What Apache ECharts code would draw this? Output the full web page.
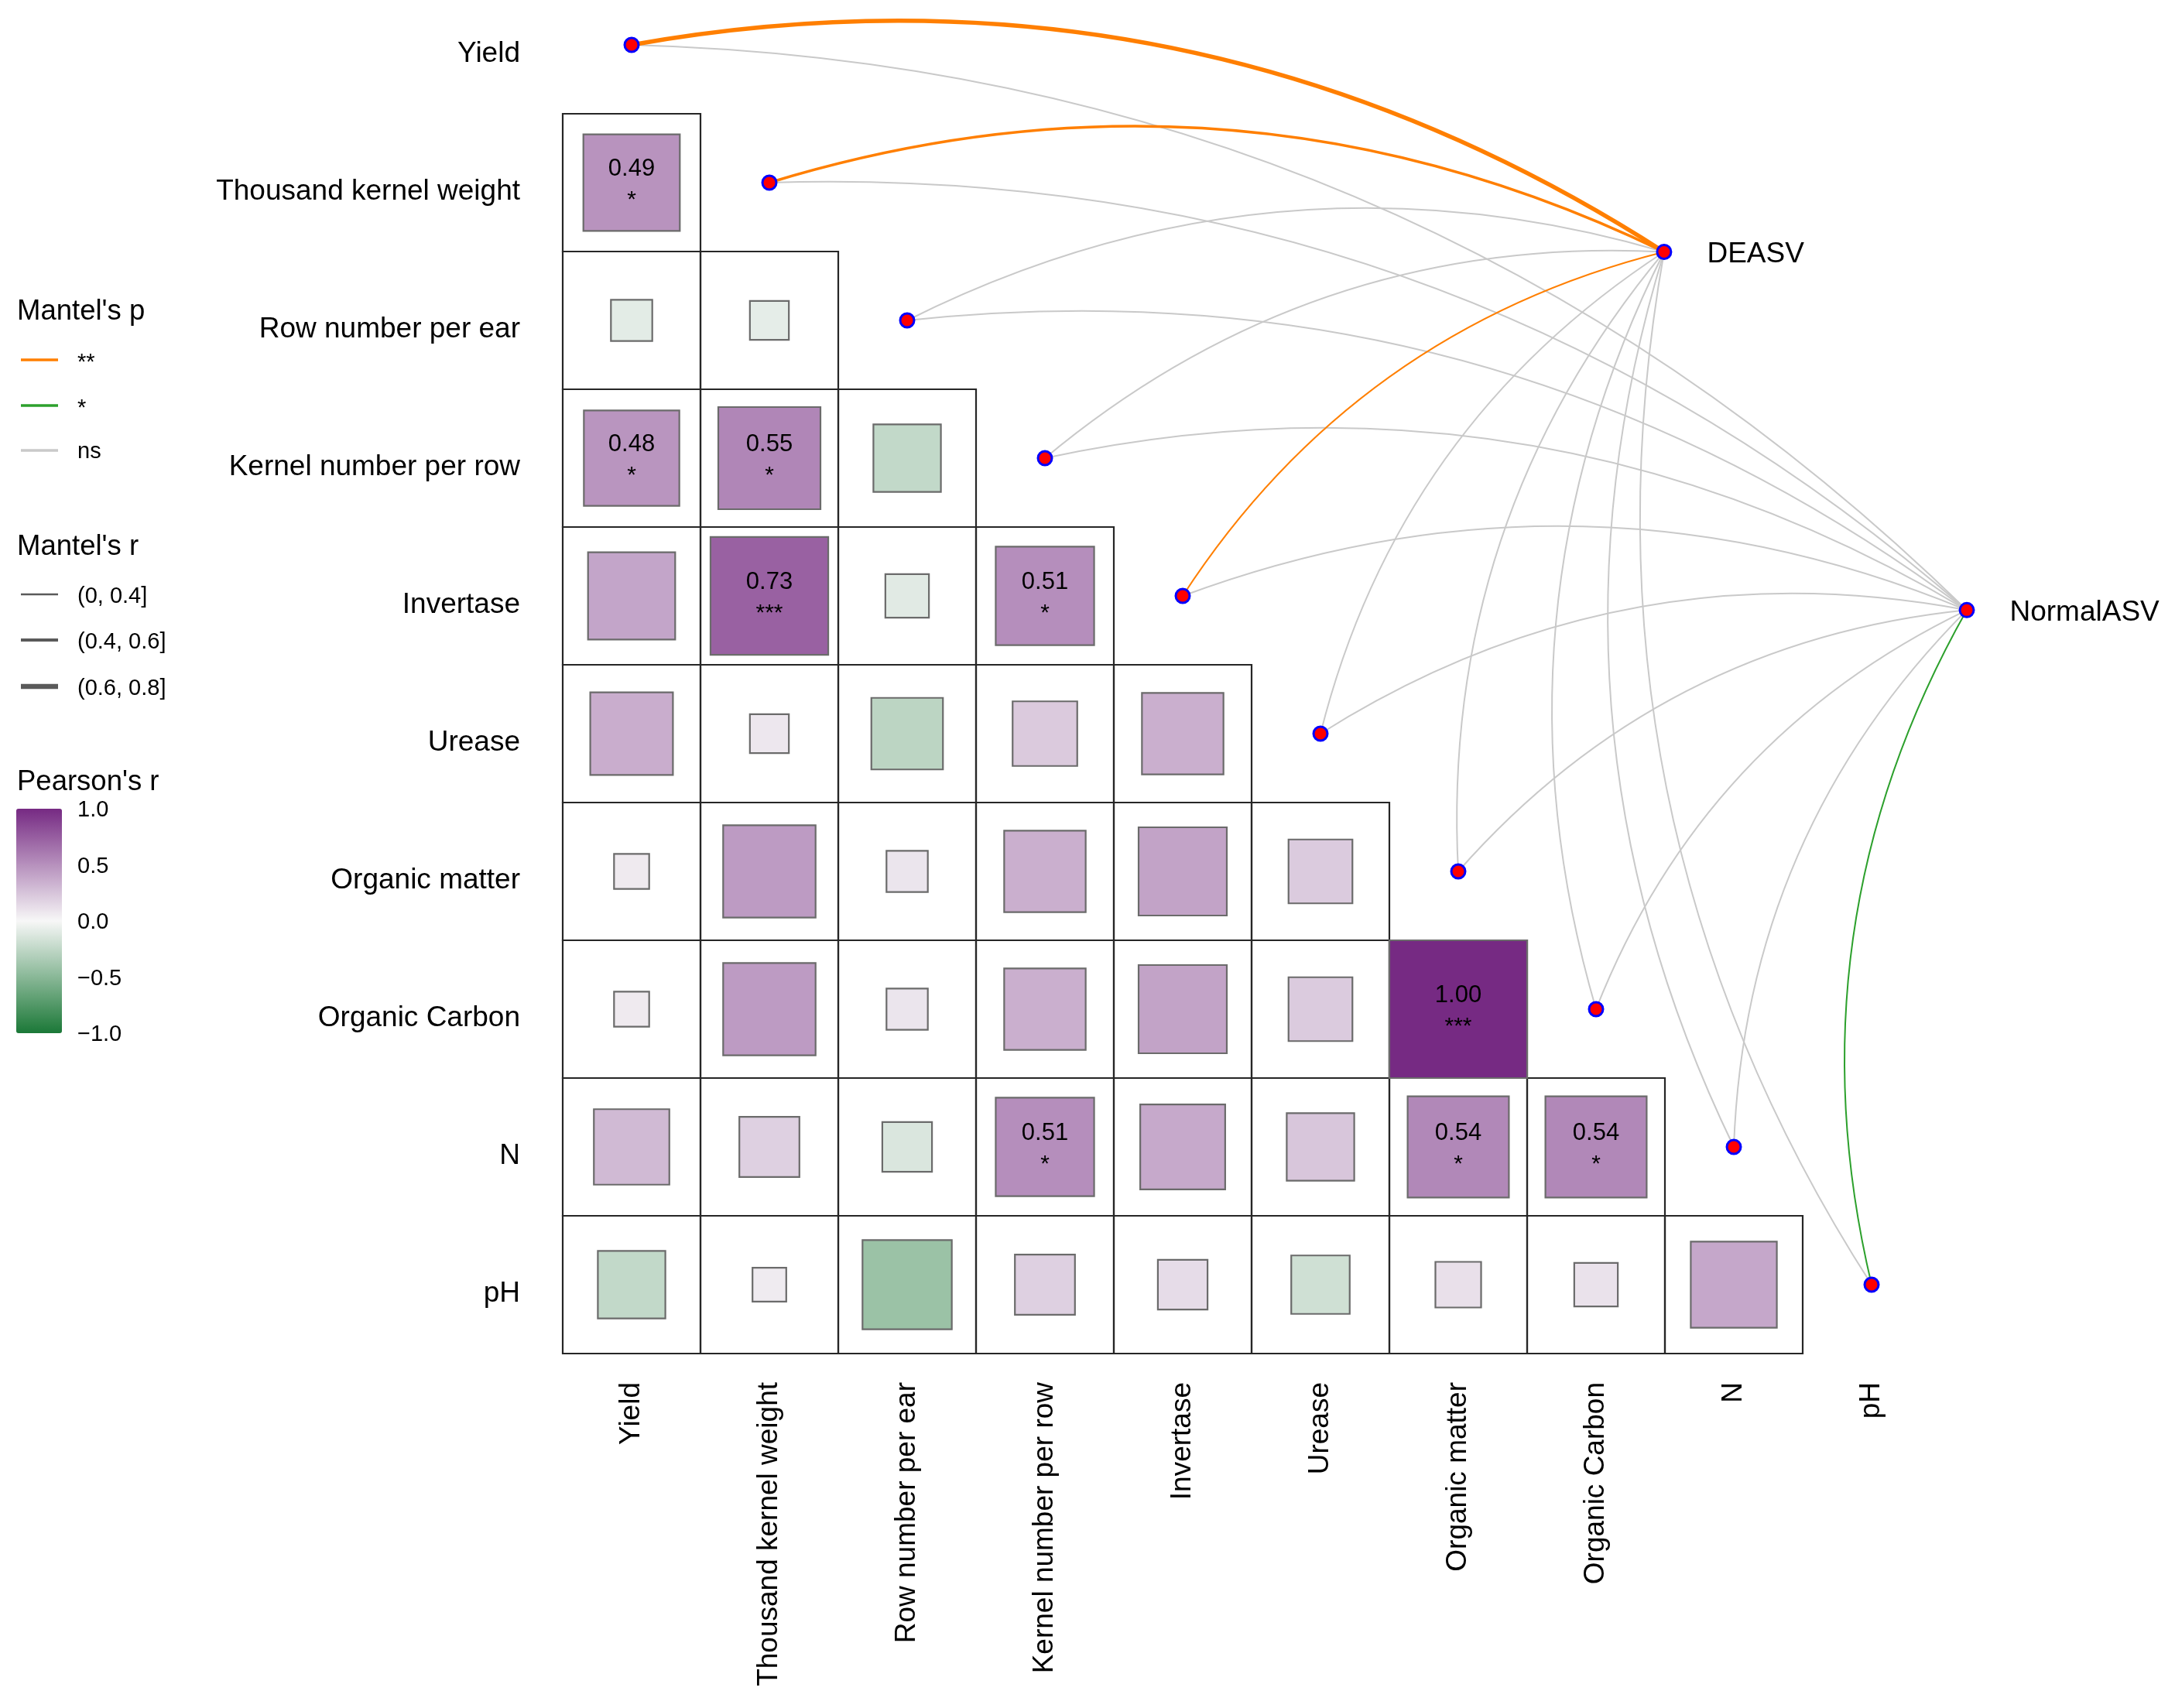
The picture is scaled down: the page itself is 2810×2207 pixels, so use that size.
<!DOCTYPE html>
<html>
<head>
<meta charset="utf-8">
<script src="https://cdn.jsdelivr.net/npm/echarts@6/dist/echarts.min.js"></script>
<style>
html,body{margin:0;padding:0;background:#ffffff;}
#chart{width:2810px;height:2207px;}
</style>
</head>
<body>
<div id="chart"></div>
<script>
// ---------------- data ----------------
const variables = ['Yield','Thousand kernel weight','Row number per ear','Kernel number per row','Invertase','Urease','Organic matter','Organic Carbon','N','pH'];

// Pearson's r, lower triangle: row i holds the values against columns 0..i-1
const pearsonR = [
  [],
  [0.49],
  [-0.09, -0.08],
  [0.48, 0.55, -0.24],
  [0.40, 0.73, -0.10, 0.51],
  [0.36, 0.08, -0.27, 0.22, 0.35],
  [0.065, 0.45, 0.09, 0.35, 0.41, 0.215],
  [0.065, 0.45, 0.09, 0.35, 0.41, 0.215, 1.00],
  [0.30, 0.19, -0.13, 0.51, 0.38, 0.24, 0.54, 0.54],
  [-0.24, 0.06, -0.42, 0.19, 0.13, -0.18, 0.11, 0.10, 0.39]
];
const pearsonSig = [
  [],
  ['*'],
  ['', ''],
  ['*', '*', ''],
  ['', '***', '', '*'],
  ['', '', '', '', ''],
  ['', '', '', '', '', ''],
  ['', '', '', '', '', '', '***'],
  ['', '', '', '*', '', '', '*', '*'],
  ['', '', '', '', '', '', '', '', '']
];

const envNames = ['DEASV', 'NormalASV'];
const mantelP_DEASV = ['**', '**', 'ns', 'ns', '**', 'ns', 'ns', 'ns', 'ns', 'ns'];
const mantelR_DEASV = ['(0.6, 0.8]', '(0.4, 0.6]', '(0, 0.4]', '(0, 0.4]', '(0, 0.4]', '(0, 0.4]', '(0, 0.4]', '(0, 0.4]', '(0, 0.4]', '(0, 0.4]'];
const mantelP_NormalASV = ['ns', 'ns', 'ns', 'ns', 'ns', 'ns', 'ns', 'ns', 'ns', '*'];
const mantelR_NormalASV = ['(0, 0.4]', '(0, 0.4]', '(0, 0.4]', '(0, 0.4]', '(0, 0.4]', '(0, 0.4]', '(0, 0.4]', '(0, 0.4]', '(0, 0.4]', '(0, 0.4]'];

const pLevels = ['**', '*', 'ns'];
const rLevels = ['(0, 0.4]', '(0.4, 0.6]', '(0.6, 0.8]'];
const pearsonTicks = [1.0, 0.5, 0.0, -0.5, -1.0];

// ---------------- styles / layout ----------------
const FONT = '"Liberation Sans", Arial, Helvetica, sans-serif';
const pColor = {'**': '#FF7F00', '*': '#2CA02C', 'ns': '#C9C9C9'};
const rWidth = {'(0, 0.4]': 2, '(0.4, 0.6]': 3.5, '(0.6, 0.8]': 5.4};
const rLegendWidth = {'(0, 0.4]': 2.4, '(0.4, 0.6]': 3.8, '(0.6, 0.8]': 6.5};
// env node positions in cell units (layout)
const envPos = {DEASV: [7.494, 1.503], NormalASV: [9.691, 4.103]};

// ---------------- build series data ----------------
const cells = [];
pearsonR.forEach((row, i) => row.forEach((r, j) => {
  cells.push({col: j, row: i, r: r, sig: pearsonSig[i][j]});
}));
const cellData = cells.map(c => [c.col, c.row, c.r]);

const links = [];
variables.forEach((v, i) => {
  links.push({node: i, env: 'DEASV', p: mantelP_DEASV[i], r: mantelR_DEASV[i]});
  links.push({node: i, env: 'NormalASV', p: mantelP_NormalASV[i], r: mantelR_NormalASV[i]});
});
const pOrder = {'ns': 0, '*': 1, '**': 2};
links.sort((a, b) => pOrder[a.p] - pOrder[b.p]);
const linkData = links.map(l => [l.node, l.node]);

const nodeData = variables.map((v, i) => [i, i]);
const envData = envNames.map(e => envPos[e]);

// ---------------- legend graphics ----------------
const graphic = [];
function gText(x, y, text, size) {
  graphic.push({type: 'text', x: x, y: y, silent: true,
    style: {text: text, font: size + 'px ' + FONT, fill: '#000', verticalAlign: 'middle', align: 'left'}});
}
function gLine(x1, y1, x2, y2, color, w) {
  graphic.push({type: 'line', silent: true, shape: {x1: x1, y1: y1, x2: x2, y2: y2},
    style: {stroke: color, lineWidth: w}});
}
gText(22, 403, "Mantel's p", 36.5);
const pLegendY = [465, 524, 582];
pLevels.forEach((p, k) => {
  gLine(27, pLegendY[k], 75, pLegendY[k], pColor[p], 3.4);
  gText(100, pLegendY[k] + (p === 'ns' ? 2 : 4), p, 29);
});
gText(22, 707, "Mantel's r", 36.5);
const rLegendY = [768, 827, 887];
rLevels.forEach((r, k) => {
  gLine(27, rLegendY[k], 75, rLegendY[k], '#5a5a5a', rLegendWidth[r]);
  gText(100, rLegendY[k] + 3, r, 29);
});
gText(22, 1011, "Pearson's r", 36.5);
const barTop = 1045, barH = 290, barLeft = 21, barW = 59;
pearsonTicks.forEach(t => {
  const y = barTop + (1 - t) / 2 * barH;
  gLine(barLeft, y, barLeft + 13, y, '#ffffff', 2);
  gLine(barLeft + barW - 13, y, barLeft + barW, y, '#ffffff', 2);
  gText(100, y + 2, (t < 0 ? '\u2212' : '') + Math.abs(t).toFixed(1), 29);
});

// ---------------- option ----------------
const option = {
  backgroundColor: '#ffffff',
  animation: false,
  textStyle: {fontFamily: FONT},
  grid: {left: 727, top: -31, width: 1780, height: 1780, outerBoundsMode: 'none', containLabel: false},
  xAxis: [
    {type: 'category', data: variables, position: 'bottom',
      axisLine: {show: false}, axisTick: {show: false}, splitLine: {show: false},
      axisLabel: {rotate: 90, margin: 37, interval: 0, fontSize: 37, color: '#000', fontFamily: FONT}},
    {type: 'value', min: -0.5, max: 9.5, show: false, splitLine: {show: false}}
  ],
  yAxis: [
    {type: 'category', data: variables, inverse: true,
      axisLine: {show: false}, axisTick: {show: false}, splitLine: {show: false},
      axisLabel: {margin: 55, interval: 0, fontSize: 37, color: '#000', fontFamily: FONT,
        verticalAlign: 'top', lineHeight: 24}},
    {type: 'value', min: -0.5, max: 9.5, inverse: true, show: false, splitLine: {show: false}}
  ],
  visualMap: {
    type: 'continuous', min: -1, max: 1, dimension: 2, seriesIndex: 1,
    inRange: {color: ['#1B7837', '#F7F7F7', '#762A83']},
    calculable: false, hoverLink: false, orient: 'vertical',
    left: barLeft, top: barTop, itemWidth: barW, itemHeight: barH, padding: 0
  },
  graphic: graphic,
  series: [
    { // cell borders
      type: 'custom', xAxisIndex: 1, yAxisIndex: 1, clip: false, silent: true,
      data: cellData,
      renderItem: function (params, api) {
        const c = api.coord([api.value(0), api.value(1)]);
        const s = api.size([1, 1]);
        return {type: 'rect', shape: {x: c[0] - s[0] / 2, y: c[1] - s[1] / 2, width: s[0], height: s[1]},
          style: {fill: null, stroke: '#262626', lineWidth: 2.2}};
      }
    },
    { // Pearson squares
      type: 'custom', xAxisIndex: 1, yAxisIndex: 1, clip: false, silent: true,
      data: cellData,
      renderItem: function (params, api) {
        const cell = cells[params.dataIndex];
        const c = api.coord([api.value(0), api.value(1)]);
        const s = api.size([1, 1]);
        const side = Math.sqrt(Math.abs(api.value(2))) * s[0];
        const children = [{type: 'rect',
          shape: {x: c[0] - side / 2, y: c[1] - side / 2, width: side, height: side},
          style: {fill: api.visual('color'), stroke: '#6b6b6b', lineWidth: 2.2}}];
        if (cell.sig) {
          children.push({type: 'text', style: {text: cell.r.toFixed(2), x: c[0], y: c[1] - 18,
            font: '31px ' + FONT, fill: '#000', align: 'center', verticalAlign: 'middle'}});
          children.push({type: 'text', style: {text: cell.sig, x: c[0], y: c[1] + 23,
            font: '30px ' + FONT, fill: '#000', align: 'center', verticalAlign: 'middle'}});
        }
        return {type: 'group', children: children};
      }
    },
    { // Mantel links
      type: 'custom', xAxisIndex: 1, yAxisIndex: 1, clip: false, silent: true,
      data: linkData,
      renderItem: function (params, api) {
        const l = links[params.dataIndex];
        const p0 = api.coord([l.node, l.node]);
        const p1 = api.coord(envPos[l.env]);
        const dx = p1[0] - p0[0], dy = p1[1] - p0[1];
        const L = Math.sqrt(dx * dx + dy * dy);
        const nx = dy / L, ny = -dx / L;
        const k = 0.196 * L;
        return {type: 'bezierCurve',
          shape: {x1: p0[0], y1: p0[1], x2: p1[0], y2: p1[1],
            cpx1: (p0[0] + p1[0]) / 2 + nx * k, cpy1: (p0[1] + p1[1]) / 2 + ny * k},
          style: {fill: null, stroke: pColor[l.p], lineWidth: rWidth[l.r]}};
      }
    },
    { // variable nodes
      type: 'scatter', xAxisIndex: 1, yAxisIndex: 1, clip: false, silent: true,
      data: nodeData, symbol: 'circle', symbolSize: 18,
      itemStyle: {color: '#FF0000', borderColor: '#0000FF', borderWidth: 3, opacity: 1}
    },
    { // environment nodes
      type: 'scatter', xAxisIndex: 1, yAxisIndex: 1, clip: false, silent: true,
      data: envData.map((p, i) => ({value: p, name: envNames[i]})), symbol: 'circle', symbolSize: 18,
      itemStyle: {color: '#FF0000', borderColor: '#0000FF', borderWidth: 3, opacity: 1},
      label: {show: true, position: 'right', distance: 45, offset: [0, 3], formatter: '{b}', fontSize: 37, color: '#000', fontFamily: FONT}
    }
  ]
};

const chart = echarts.init(document.getElementById('chart'), null, {renderer: 'canvas', width: 2810, height: 2207});
chart.setOption(option);
</script>
</body>
</html>
